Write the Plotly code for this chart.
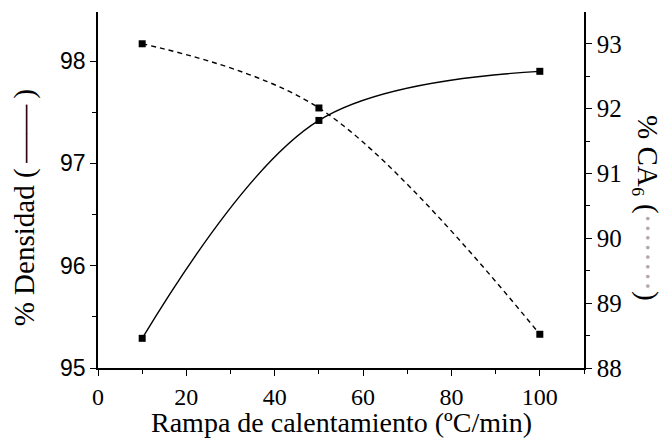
import plotly.graph_objects as go

rampa = [10, 50, 100]
densidad = [95.29, 97.42, 97.90]
ca6 = [93.00, 92.01, 88.52]

x_ticks = [0, 20, 40, 60, 80, 100]
y_left_ticks = [95, 96, 97, 98]
y_right_ticks = [88, 89, 90, 91, 92, 93]

serif = "Liberation Serif"
sans = "Liberation Sans"

fig = go.Figure()
fig.add_trace(go.Scatter(
    x=rampa, y=densidad, mode="lines+markers",
    line=dict(color="black", width=1.4, shape="spline", smoothing=1.0),
    marker=dict(symbol="square", size=7, color="black"),
    yaxis="y", showlegend=False))
fig.add_trace(go.Scatter(
    x=rampa, y=ca6, mode="lines+markers",
    line=dict(color="black", width=1.4, dash="5px,4px", shape="spline", smoothing=1.0),
    marker=dict(symbol="square", size=7, color="black"),
    yaxis="y2", showlegend=False))

fig.update_layout(
    width=665, height=443,
    margin=dict(l=98, r=81, t=12, b=75),
    plot_bgcolor="white", paper_bgcolor="white",
    font=dict(family=serif, color="black"),
    xaxis=dict(range=[0, 110], tickvals=x_ticks, ticks="outside", ticklen=6,
               tickwidth=1.3, tickcolor="black", showline=True, linecolor="black",
               linewidth=1.5, showgrid=False, zeroline=False,
               tickfont=dict(family=serif, size=24, color="black"),
               minor=dict(dtick=10, tick0=0, ticks="outside", ticklen=4,
                          tickcolor="black", showgrid=False)),
    yaxis=dict(range=[95, 98.48], tickvals=y_left_ticks, ticks="outside", ticklen=6,
               tickwidth=1.3, tickcolor="black", showline=True, linecolor="black",
               linewidth=1.5, showgrid=False, zeroline=False,
               tickfont=dict(family=sans, size=23, color="black"),
               minor=dict(dtick=0.5, tick0=95, ticks="outside", ticklen=4,
                          tickcolor="black", showgrid=False)),
    yaxis2=dict(range=[88, 93.49], tickvals=y_right_ticks, ticks="outside", ticklen=6,
                tickwidth=1.3, tickcolor="black", showline=True, linecolor="black",
                linewidth=1.5, showgrid=False, zeroline=False, overlaying="y",
                side="right", anchor="x",
                tickfont=dict(family=serif, size=25, color="black"),
                minor=dict(dtick=0.5, tick0=88, ticks="outside", ticklen=4,
                           tickcolor="black", showgrid=False)),
)

fig.add_annotation(text="Rampa de calentamiento (ºC/min)", xref="paper", yref="paper",
                   x=0.502, y=-0.154, xanchor="center", yanchor="middle", showarrow=False,
                   font=dict(family=serif, size=28, color="black"))
fig.add_annotation(text="% Densidad (\u2009——\u2009)", xref="paper", yref="paper",
                   x=-0.152, y=0.449, xanchor="center", yanchor="middle", textangle=-90,
                   showarrow=False, font=dict(family=serif, size=29, color="black"))
fig.add_annotation(text="% CA\u2086 (<span style='color:#aaa'>········</span>)",
                   xref="paper", yref="paper",
                   x=1.132, y=0.449, xanchor="center", yanchor="middle", textangle=90,
                   showarrow=False, font=dict(family=serif, size=29, color="black"))

fig.write_html("out.html")
